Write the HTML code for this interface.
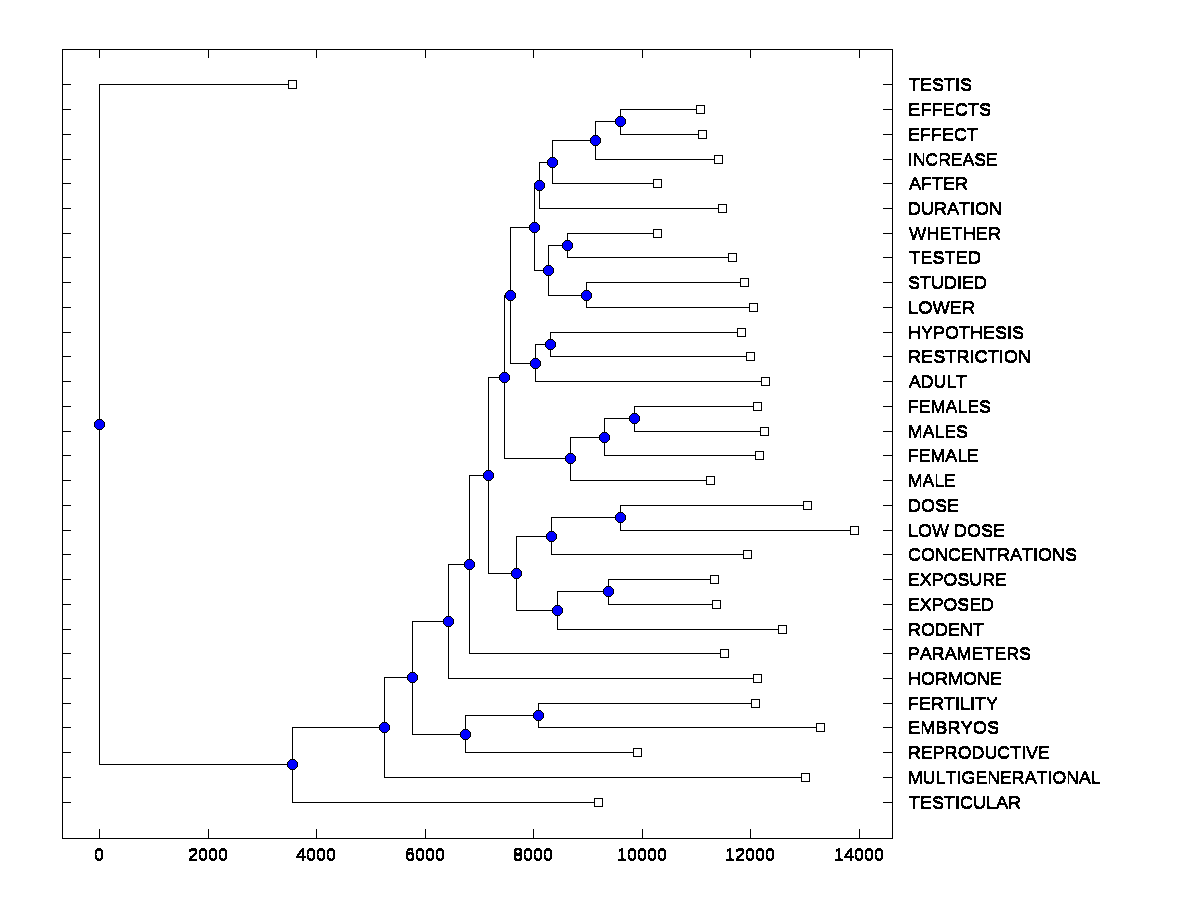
<!DOCTYPE html>
<html lang="en">
<head>
<meta charset="utf-8">
<title>Dendrogram</title>
<style>
html,body{margin:0;padding:0;background:#fff;}
body{width:1200px;height:900px;overflow:hidden;}
svg{display:block;}
text{font-family:"Liberation Sans",Arial,sans-serif;font-size:17px;fill:#000;font-kerning:none;}
.l{stroke:#000;stroke-width:1;fill:none;shape-rendering:crispEdges;}
.sq{stroke:#000;stroke-width:1;fill:#fff;shape-rendering:crispEdges;}
.c{stroke:#000;stroke-width:1;fill:#00f;shape-rendering:crispEdges;}
</style>
</head>
<body>
<svg width="1200" height="900" viewBox="0 0 1200 900">
<defs><filter id="bw" x="-5%" y="-5%" width="110%" height="110%" color-interpolation-filters="sRGB"><feComponentTransfer result="t"><feFuncA type="discrete" tableValues="0 1 1"/></feComponentTransfer><feOffset in="t" dy="1" result="o"/><feMerge><feMergeNode in="t"/><feMergeNode in="o"/></feMerge></filter></defs>
<rect x="0" y="0" width="1200" height="900" fill="#fff"/>
<g class="l">
<rect x="62.5" y="49.5" width="830" height="789"/>
<path d="M99.5 49v9M99.5 839v-10M208.5 49v9M208.5 839v-10M316.5 49v9M316.5 839v-10M425.5 49v9M425.5 839v-10M533.5 49v9M533.5 839v-10M642.5 49v9M642.5 839v-10M750.5 49v9M750.5 839v-10M859.5 49v9M859.5 839v-10M62 84.5h9M893 84.5h-10M62 109.5h9M893 109.5h-10M62 134.5h9M893 134.5h-10M62 159.5h9M893 159.5h-10M62 183.5h9M893 183.5h-10M62 208.5h9M893 208.5h-10M62 233.5h9M893 233.5h-10M62 257.5h9M893 257.5h-10M62 282.5h9M893 282.5h-10M62 307.5h9M893 307.5h-10M62 332.5h9M893 332.5h-10M62 356.5h9M893 356.5h-10M62 381.5h9M893 381.5h-10M62 406.5h9M893 406.5h-10M62 431.5h9M893 431.5h-10M62 455.5h9M893 455.5h-10M62 480.5h9M893 480.5h-10M62 505.5h9M893 505.5h-10M62 530.5h9M893 530.5h-10M62 554.5h9M893 554.5h-10M62 579.5h9M893 579.5h-10M62 604.5h9M893 604.5h-10M62 629.5h9M893 629.5h-10M62 653.5h9M893 653.5h-10M62 678.5h9M893 678.5h-10M62 703.5h9M893 703.5h-10M62 727.5h9M893 727.5h-10M62 752.5h9M893 752.5h-10M62 777.5h9M893 777.5h-10M62 802.5h9M893 802.5h-10"/>
<path d="M700.5 109.5H620.5V134.5H702.5M620.5 121.5H595.5V159.5H718.5M595.5 140.5H552.5V183.5H657.5M552.5 162.5H539.5V208.5H722.5M657.5 233.5H567.5V257.5H732.5M744.5 282.5H586.5V307.5H753.5M567.5 245.5H548.5V295.5H586.5M539.5 185.5H534.5V270.5H548.5M741.5 332.5H550.5V356.5H750.5M550.5 344.5H535.5V381.5H765.5M534.5 227.5H510.5V363.5H535.5M757.5 406.5H634.5V431.5H764.5M634.5 418.5H604.5V455.5H759.5M604.5 437.5H570.5V480.5H710.5M510.5 295.5H504.5V458.5H570.5M807.5 505.5H620.5V530.5H854.5M620.5 517.5H551.5V554.5H747.5M714.5 579.5H608.5V604.5H716.5M608.5 591.5H557.5V629.5H782.5M551.5 536.5H516.5V610.5H557.5M504.5 377.5H488.5V573.5H516.5M488.5 475.5H469.5V653.5H724.5M469.5 564.5H448.5V678.5H757.5M755.5 703.5H538.5V727.5H820.5M538.5 715.5H465.5V752.5H637.5M448.5 621.5H412.5V734.5H465.5M412.5 677.5H384.5V777.5H805.5M384.5 727.5H292.5V802.5H598.5M292.5 84.5H99.5V764.5H292.5"/>
</g>
<g class="sq">
<rect x="288.5" y="80.5" width="8" height="8"/><rect x="696.5" y="105.5" width="8" height="8"/><rect x="698.5" y="130.5" width="8" height="8"/><rect x="714.5" y="155.5" width="8" height="8"/><rect x="653.5" y="179.5" width="8" height="8"/><rect x="718.5" y="204.5" width="8" height="8"/><rect x="653.5" y="229.5" width="8" height="8"/><rect x="728.5" y="253.5" width="8" height="8"/><rect x="740.5" y="278.5" width="8" height="8"/><rect x="749.5" y="303.5" width="8" height="8"/><rect x="737.5" y="328.5" width="8" height="8"/><rect x="746.5" y="352.5" width="8" height="8"/><rect x="761.5" y="377.5" width="8" height="8"/><rect x="753.5" y="402.5" width="8" height="8"/><rect x="760.5" y="427.5" width="8" height="8"/><rect x="755.5" y="451.5" width="8" height="8"/><rect x="706.5" y="476.5" width="8" height="8"/><rect x="803.5" y="501.5" width="8" height="8"/><rect x="850.5" y="526.5" width="8" height="8"/><rect x="743.5" y="550.5" width="8" height="8"/><rect x="710.5" y="575.5" width="8" height="8"/><rect x="712.5" y="600.5" width="8" height="8"/><rect x="778.5" y="625.5" width="8" height="8"/><rect x="720.5" y="649.5" width="8" height="8"/><rect x="753.5" y="674.5" width="8" height="8"/><rect x="751.5" y="699.5" width="8" height="8"/><rect x="816.5" y="723.5" width="8" height="8"/><rect x="633.5" y="748.5" width="8" height="8"/><rect x="801.5" y="773.5" width="8" height="8"/><rect x="594.5" y="798.5" width="8" height="8"/>
</g>
<g class="c">
<path d="M618.5 116.5h4l3 3v4l-3 3h-4l-3-3v-4z"/><path d="M593.5 135.5h4l3 3v4l-3 3h-4l-3-3v-4z"/><path d="M550.5 157.5h4l3 3v4l-3 3h-4l-3-3v-4z"/><path d="M537.5 180.5h4l3 3v4l-3 3h-4l-3-3v-4z"/><path d="M565.5 240.5h4l3 3v4l-3 3h-4l-3-3v-4z"/><path d="M584.5 290.5h4l3 3v4l-3 3h-4l-3-3v-4z"/><path d="M546.5 265.5h4l3 3v4l-3 3h-4l-3-3v-4z"/><path d="M532.5 222.5h4l3 3v4l-3 3h-4l-3-3v-4z"/><path d="M548.5 339.5h4l3 3v4l-3 3h-4l-3-3v-4z"/><path d="M533.5 358.5h4l3 3v4l-3 3h-4l-3-3v-4z"/><path d="M508.5 290.5h4l3 3v4l-3 3h-4l-3-3v-4z"/><path d="M632.5 413.5h4l3 3v4l-3 3h-4l-3-3v-4z"/><path d="M602.5 432.5h4l3 3v4l-3 3h-4l-3-3v-4z"/><path d="M568.5 453.5h4l3 3v4l-3 3h-4l-3-3v-4z"/><path d="M502.5 372.5h4l3 3v4l-3 3h-4l-3-3v-4z"/><path d="M618.5 512.5h4l3 3v4l-3 3h-4l-3-3v-4z"/><path d="M549.5 531.5h4l3 3v4l-3 3h-4l-3-3v-4z"/><path d="M606.5 586.5h4l3 3v4l-3 3h-4l-3-3v-4z"/><path d="M555.5 605.5h4l3 3v4l-3 3h-4l-3-3v-4z"/><path d="M514.5 568.5h4l3 3v4l-3 3h-4l-3-3v-4z"/><path d="M486.5 470.5h4l3 3v4l-3 3h-4l-3-3v-4z"/><path d="M467.5 559.5h4l3 3v4l-3 3h-4l-3-3v-4z"/><path d="M446.5 616.5h4l3 3v4l-3 3h-4l-3-3v-4z"/><path d="M536.5 710.5h4l3 3v4l-3 3h-4l-3-3v-4z"/><path d="M463.5 729.5h4l3 3v4l-3 3h-4l-3-3v-4z"/><path d="M410.5 672.5h4l3 3v4l-3 3h-4l-3-3v-4z"/><path d="M382.5 722.5h4l3 3v4l-3 3h-4l-3-3v-4z"/><path d="M290.5 759.5h4l3 3v4l-3 3h-4l-3-3v-4z"/><path d="M97.5 419.5h4l3 3v4l-3 3h-4l-3-3v-4z"/>
</g>
<g filter="url(#bw)">
<text x="909" y="90" textLength="63.02" lengthAdjust="spacingAndGlyphs">TESTIS</text>
<text x="908" y="115" textLength="83.19" lengthAdjust="spacingAndGlyphs">EFFECTS</text>
<text x="908" y="140" textLength="70.00" lengthAdjust="spacingAndGlyphs">EFFECT</text>
<text x="908" y="165" textLength="89.74" lengthAdjust="spacingAndGlyphs">INCREASE</text>
<text x="909" y="189" textLength="59.02" lengthAdjust="spacingAndGlyphs">AFTER</text>
<text x="908" y="214" textLength="94.00" lengthAdjust="spacingAndGlyphs">DURATION</text>
<text x="909" y="239" textLength="92.17" lengthAdjust="spacingAndGlyphs">WHETHER</text>
<text x="909" y="263" textLength="72.22" lengthAdjust="spacingAndGlyphs">TESTED</text>
<text x="908" y="288" textLength="79.02" lengthAdjust="spacingAndGlyphs">STUDIED</text>
<text x="908" y="313" textLength="67.27" lengthAdjust="spacingAndGlyphs">LOWER</text>
<text x="908" y="338" textLength="116.03" lengthAdjust="spacingAndGlyphs">HYPOTHESIS</text>
<text x="908" y="362" textLength="123.12" lengthAdjust="spacingAndGlyphs">RESTRICTION</text>
<text x="909" y="387" textLength="57.77" lengthAdjust="spacingAndGlyphs">ADULT</text>
<text x="908" y="412" textLength="82.86" lengthAdjust="spacingAndGlyphs">FEMALES</text>
<text x="908" y="437" textLength="59.78" lengthAdjust="spacingAndGlyphs">MALES</text>
<text x="908" y="461" textLength="70.83" lengthAdjust="spacingAndGlyphs">FEMALE</text>
<text x="908" y="486" textLength="47.70" lengthAdjust="spacingAndGlyphs">MALE</text>
<text x="908" y="511" textLength="51.02" lengthAdjust="spacingAndGlyphs">DOSE</text>
<text x="908" y="536" textLength="97.02" lengthAdjust="spacingAndGlyphs">LOW DOSE</text>
<text x="908" y="560" textLength="169.02" lengthAdjust="spacingAndGlyphs">CONCENTRATIONS</text>
<text x="908" y="585" textLength="98.89" lengthAdjust="spacingAndGlyphs">EXPOSURE</text>
<text x="908" y="610" textLength="85.86" lengthAdjust="spacingAndGlyphs">EXPOSED</text>
<text x="908" y="635" textLength="76.00" lengthAdjust="spacingAndGlyphs">RODENT</text>
<text x="908" y="659" textLength="122.92" lengthAdjust="spacingAndGlyphs">PARAMETERS</text>
<text x="908" y="684" textLength="94.00" lengthAdjust="spacingAndGlyphs">HORMONE</text>
<text x="908" y="709" textLength="90.02" lengthAdjust="spacingAndGlyphs">FERTILITY</text>
<text x="908" y="733" textLength="91.20" lengthAdjust="spacingAndGlyphs">EMBRYOS</text>
<text x="908" y="758" textLength="141.93" lengthAdjust="spacingAndGlyphs">REPRODUCTIVE</text>
<text x="908" y="783" textLength="192.90" lengthAdjust="spacingAndGlyphs">MULTIGENERATIONAL</text>
<text x="909" y="808" textLength="112.03" lengthAdjust="spacingAndGlyphs">TESTICULAR</text>
</g>
<g text-anchor="middle" filter="url(#bw)">
<text x="99.0" y="860" textLength="10.01" lengthAdjust="spacingAndGlyphs">0</text>
<text x="208.0" y="860" textLength="40.05" lengthAdjust="spacingAndGlyphs">2000</text>
<text x="316.0" y="860" textLength="40.05" lengthAdjust="spacingAndGlyphs">4000</text>
<text x="425.0" y="860" textLength="40.05" lengthAdjust="spacingAndGlyphs">6000</text>
<text x="533.0" y="860" textLength="40.05" lengthAdjust="spacingAndGlyphs">8000</text>
<text x="642.0" y="860" textLength="50.06" lengthAdjust="spacingAndGlyphs">10000</text>
<text x="750.0" y="860" textLength="50.06" lengthAdjust="spacingAndGlyphs">12000</text>
<text x="859.0" y="860" textLength="50.06" lengthAdjust="spacingAndGlyphs">14000</text>
</g>
</svg>
</body>
</html>
